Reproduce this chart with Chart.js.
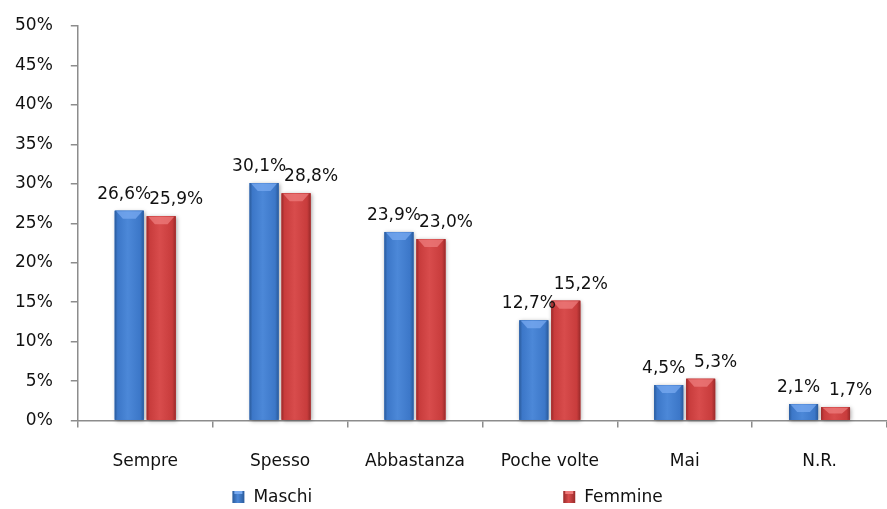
<!DOCTYPE html>
<html>
<head>
<meta charset="utf-8">
<script src="https://cdn.jsdelivr.net/npm/chart.js@4.4.1/dist/chart.umd.min.js"></script>
<style>
  html, body { margin: 0; padding: 0; background: #fff; }
  #wrap { width: 887px; height: 509px; }
</style>
</head>
<body>
<div id="wrap"><canvas id="chart"></canvas></div>
<script>
// Risposte per genere
const categorie = ['Sempre', 'Spesso', 'Abbastanza', 'Poche volte', 'Mai', 'N.R.'];
const maschi = [26.6, 30.1, 23.9, 12.7, 4.5, 2.1];
const femmine = [25.9, 28.8, 23.0, 15.2, 5.3, 1.7];
const tickY = [0, 5, 10, 15, 20, 25, 30, 35, 40, 45, 50];

const FONT = '"DejaVu Sans", sans-serif';
const FSIZE = 17;
const AXIS = '#8c8c8c';

// colori: base, bordo scuro, riflesso chiaro
const tinte = [
    { base: '#3c77c8', dark: '#2a5b9c', light: '#4c88d8', bevel: '#78aaf0' },
    { base: '#c83c3c', dark: '#9a2a2a', light: '#d84c4c', bevel: '#ee7c7c' }
];
// spostamento orizzontale delle etichette dei valori
const spostaEtichetta = [-5, 15];

function formatta(v) {
    return v.toFixed(1).replace('.', ',') + '%';
}

function rettangoli(chart) {
    const out = [];
    chart.data.datasets.forEach((ds, i) => {
        const meta = chart.getDatasetMeta(i);
        meta.data.forEach((bar, j) => {
            const p = bar.getProps(['x', 'y', 'base', 'width'], true);
            out.push({ ds: i, idx: j, left: p.x - p.width / 2, right: p.x + p.width / 2, top: p.y, bottom: p.base, x: p.x, w: p.width });
        });
    });
    return out;
}

// ombra e sfumatura delle barre
const barre3d = {
    id: 'barre3d',
    beforeDatasetsDraw(chart) {
        const ctx = chart.ctx;
        ctx.save();
        ctx.shadowColor = 'rgba(0,0,0,0.35)';
        ctx.shadowBlur = 4;
        ctx.shadowOffsetX = 1;
        ctx.shadowOffsetY = 1;
        rettangoli(chart).forEach(r => {
            ctx.fillStyle = tinte[r.ds].base;
            ctx.fillRect(r.left, r.top, r.w, r.bottom - r.top);
        });
        ctx.restore();
    },
    afterDatasetsDraw(chart) {
        const ctx = chart.ctx;
        ctx.save();
        rettangoli(chart).forEach(r => {
            const t = tinte[r.ds];
            const h = r.bottom - r.top;
            const g = ctx.createLinearGradient(r.left, 0, r.right, 0);
            g.addColorStop(0, t.dark);
            g.addColorStop(0.1, t.base);
            g.addColorStop(0.45, t.light);
            g.addColorStop(0.88, t.base);
            g.addColorStop(1, t.dark);
            ctx.fillStyle = g;
            ctx.fillRect(r.left, r.top, r.w, h);
            // smusso in alto
            const b = Math.min(8, h / 2);
            ctx.beginPath();
            ctx.moveTo(r.left + 1.5, r.top + 0.5);
            ctx.lineTo(r.right - 1.5, r.top + 0.5);
            ctx.lineTo(r.x + r.w * 0.22, r.top + b);
            ctx.lineTo(r.x - r.w * 0.22, r.top + b);
            ctx.closePath();
            ctx.fillStyle = t.bevel;
            ctx.globalAlpha = 0.75;
            ctx.fill();
            ctx.globalAlpha = 1;
        });
        ctx.restore();
    }
};

// etichette dei valori sopra le barre
const etichette = {
    id: 'etichette',
    afterDatasetsDraw(chart) {
        const ctx = chart.ctx;
        ctx.save();
        ctx.font = FSIZE + 'px ' + FONT;
        ctx.fillStyle = '#111';
        ctx.textAlign = 'center';
        ctx.textBaseline = 'alphabetic';
        rettangoli(chart).forEach(r => {
            const v = chart.data.datasets[r.ds].data[r.idx];
            ctx.fillText(formatta(v), r.x + spostaEtichetta[r.ds], r.top - 12);
        });
        ctx.restore();
    }
};

// legenda in basso, due colonne larghe
const legenda = {
    id: 'legenda',
    afterDraw(chart) {
        const ctx = chart.ctx;
        const W = chart.width;
        const cy = 497;
        const xs = [W * 0.262, W * 0.635];
        ctx.save();
        ctx.font = FSIZE + 'px ' + FONT;
        ctx.textBaseline = 'middle';
        ctx.textAlign = 'left';
        chart.data.datasets.forEach((ds, i) => {
            const t = tinte[i];
            const x = xs[i];
            const g = ctx.createLinearGradient(x, 0, x + 12, 0);
            g.addColorStop(0, t.dark);
            g.addColorStop(0.45, t.light);
            g.addColorStop(1, t.dark);
            ctx.fillStyle = g;
            ctx.fillRect(x, cy - 6, 12, 12);
            ctx.fillStyle = t.bevel;
            ctx.fillRect(x + 2, cy - 6, 8, 3);
            ctx.fillStyle = '#111';
            ctx.fillText(ds.label, x + 21, cy + 1);
        });
        ctx.restore();
    }
};

const ctx = document.getElementById('chart').getContext('2d');
const grafico = new Chart(ctx, {
    type: 'bar',
    data: {
        labels: categorie,
        datasets: [
            { label: 'Maschi', data: maschi, backgroundColor: tinte[0].base },
            { label: 'Femmine', data: femmine, backgroundColor: tinte[1].base }
        ]
    },
    options: {
        responsive: true,
        maintainAspectRatio: false,
        animation: false,
        categoryPercentage: 0.474,
        barPercentage: 0.906,
        layout: { padding: { top: 0, left: -3, right: 0, bottom: 13 } },
        plugins: {
            legend: { display: false },
            tooltip: { enabled: false }
        },
        scales: {
            x: {
                grid: { offset: true, drawOnChartArea: false, drawTicks: true, tickLength: 7, color: AXIS, lineWidth: 1.5 },
                border: { color: AXIS, width: 1.5 },
                ticks: { color: '#111', font: { family: FONT, size: FSIZE }, padding: 24 }
            },
            y: {
                min: 0,
                max: 50,
                afterBuildTicks(axis) {
                    axis.ticks = tickY.map(v => ({ value: v }));
                },
                // spazio sopra l'asse, indipendente dal padding delle etichette
                afterFit(axis) {
                    axis.paddingTop = 26;
                },
                grid: { drawOnChartArea: false, drawTicks: true, tickLength: 7, color: AXIS, lineWidth: 1.5 },
                border: { color: AXIS, width: 1.5 },
                ticks: {
                    color: '#111',
                    font: { family: FONT, size: FSIZE },
                    padding: 18,
                    callback: v => v + '%'
                }
            }
        }
    },
    plugins: [barre3d, etichette, legenda]
});
</script>
</body>
</html>
